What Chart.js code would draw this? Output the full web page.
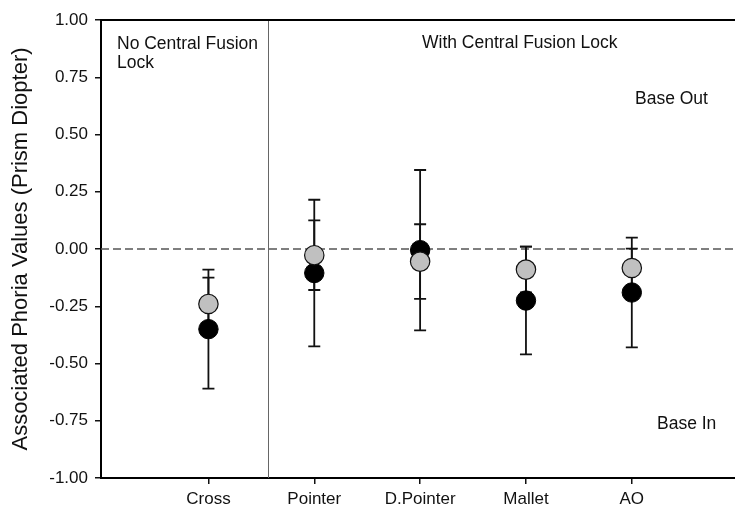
<!DOCTYPE html>
<html>
<head>
<meta charset="utf-8">
<script src="https://cdn.jsdelivr.net/npm/chart.js@4.4.1/dist/chart.umd.min.js"></script>
<style>
  html, body { margin: 0; padding: 0; background: #fff; overflow: hidden; }
  #wrap { width: 735px; height: 511px; }
</style>
</head>
<body>
<div id="wrap"><canvas id="c" width="735" height="511"></canvas></div>
<script>
// ---- data ----
const categories = ['Cross', 'Pointer', 'D.Pointer', 'Mallet', 'AO'];
const categoryX = [1, 2, 3, 4, 5];
const blackMean = [-0.35, -0.105, -0.005, -0.225, -0.19];
const blackErr  = [0.26, 0.32, 0.35, 0.235, 0.24];
const grayMean  = [-0.24, -0.027, -0.055, -0.09, -0.083];
const grayErr   = [0.115, 0.152, 0.163, 0.10, 0.085];
const yTicks = [-1.00, -0.75, -0.50, -0.25, 0.00, 0.25, 0.50, 0.75, 1.00];
const dividerX = 1.565;
const refY = 0;

const FONT = '"Liberation Sans", Arial, sans-serif';

const toPts = (m) => m.map((v, i) => ({ x: categoryX[i], y: v }));

const overlay = {
  id: 'overlay',
  beforeDatasetsDraw(chart) {
    const { ctx, chartArea: a, scales: { x, y } } = chart;
    ctx.save();
    // divider line
    const dx = x.getPixelForValue(dividerX);
    ctx.strokeStyle = '#666';
    ctx.lineWidth = 1;
    ctx.beginPath();
    ctx.moveTo(Math.round(dx) + 0.5, a.top);
    ctx.lineTo(Math.round(dx) + 0.5, a.bottom);
    ctx.stroke();
    // dashed zero line
    const zy = y.getPixelForValue(refY);
    ctx.strokeStyle = '#555';
    ctx.lineWidth = 1.3;
    ctx.setLineDash([8, 4]);
    ctx.beginPath();
    ctx.moveTo(a.left, zy);
    ctx.lineTo(a.right, zy);
    ctx.stroke();
    ctx.setLineDash([]);
    // error bars
    ctx.strokeStyle = '#111';
    ctx.lineWidth = 1.8;
    const cap = 6;
    const drawErr = (means, errs) => {
      means.forEach((m, i) => {
        const px = x.getPixelForValue(categoryX[i]);
        const top = y.getPixelForValue(m + errs[i]);
        const bot = y.getPixelForValue(m - errs[i]);
        ctx.beginPath();
        ctx.moveTo(px, top); ctx.lineTo(px, bot);
        ctx.moveTo(px - cap, top); ctx.lineTo(px + cap, top);
        ctx.moveTo(px - cap, bot); ctx.lineTo(px + cap, bot);
        ctx.stroke();
      });
    };
    drawErr(blackMean, blackErr);
    drawErr(grayMean, grayErr);
    ctx.restore();
  },
  afterDraw(chart) {
    const { ctx, chartArea: a } = chart;
    ctx.save();
    // top frame line
    ctx.strokeStyle = '#000';
    ctx.lineWidth = 2;
    ctx.beginPath();
    ctx.moveTo(a.left - 1, a.top);
    ctx.lineTo(735, a.top);
    ctx.stroke();
    // annotation texts
    ctx.fillStyle = '#111';
    ctx.font = '17.5px ' + FONT;
    ctx.textBaseline = 'middle';
    ctx.textAlign = 'left';
    ctx.fillText('No Central Fusion', 117, 44);
    ctx.fillText('Lock', 117, 63);
    ctx.fillText('With Central Fusion Lock', 422, 43);
    ctx.fillText('Base Out', 635, 99);
    ctx.fillText('Base In', 657, 424);
    ctx.restore();
  }
};

new Chart(document.getElementById('c'), {
  type: 'scatter',
  data: {
    datasets: [
      {
        label: 'Gray',
        data: toPts(grayMean),
        backgroundColor: '#c0c0c0',
        borderColor: '#111',
        borderWidth: 1.2,
        pointRadius: 9.7,
        pointHoverRadius: 9.7
      },
      {
        label: 'Black',
        data: toPts(blackMean),
        backgroundColor: '#000',
        borderColor: '#000',
        borderWidth: 1,
        pointRadius: 9.7,
        pointHoverRadius: 9.7
      }
    ]
  },
  options: {
    responsive: false,
    animation: false,
    events: [],
    layout: { autoPadding: false, padding: { top: 20, right: 0, left: 0, bottom: 0 } },
    plugins: { legend: { display: false }, tooltip: { enabled: false } },
    scales: {
      x: {
        type: 'linear',
        min: -0.015,
        max: 5.975,
        afterBuildTicks: (s) => { s.ticks = categoryX.map(v => ({ value: v })); },
        afterFit: (s) => { s.height = 33; s.paddingLeft = 0; s.paddingRight = 0; },
        ticks: {
          callback: (v) => { const i = categoryX.indexOf(v); return i >= 0 ? categories[i] : ''; },
          color: '#111',
          font: { family: FONT, size: 17 },
          padding: 5,
          maxRotation: 0,
          autoSkip: false
        },
        grid: { drawOnChartArea: false, drawTicks: true, tickLength: 6, color: '#111', lineWidth: 1.5 },
        border: { display: true, color: '#000', width: 2 }
      },
      y: {
        type: 'linear',
        min: -1,
        max: 1,
        afterBuildTicks: (s) => { s.ticks = yTicks.map(v => ({ value: v })); },
        afterFit: (s) => { s.width = 101; s.paddingTop = 0; s.paddingBottom = 0; },
        ticks: {
          callback: (v) => v.toFixed(2),
          color: '#111',
          font: { family: FONT, size: 17 },
          padding: 7
        },
        grid: { drawOnChartArea: false, drawTicks: true, tickLength: 6, color: '#111', lineWidth: 1.5 },
        border: { display: true, color: '#000', width: 2 },
        title: {
          display: true,
          text: 'Associated Phoria Values (Prism Diopter)',
          color: '#111',
          font: { family: FONT, size: 22 },
          padding: { top: 8, bottom: 0 }
        }
      }
    }
  },
  plugins: [overlay]
});
</script>
</body>
</html>
